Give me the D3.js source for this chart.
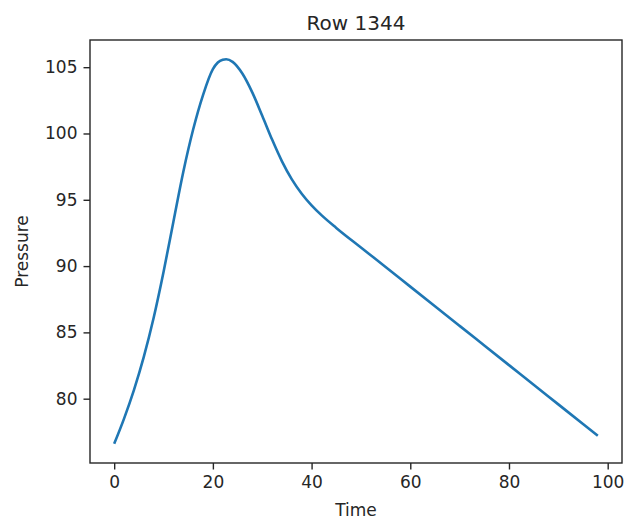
<!DOCTYPE html>
<html>
<head>
<meta charset="utf-8">
<script src="https://cdn.jsdelivr.net/npm/d3@7"></script>
<style>
  html, body { margin: 0; padding: 0; background: #fff; }
  svg { display: block; }
  text { font-family: "DejaVu Sans", sans-serif; fill: #262626; }
</style>
</head>
<body>
<svg id="chart" width="625" height="520"></svg>
<script>
const title = "Row 1344";
const xLabel = "Time";
const yLabel = "Pressure";
const timeValues = [0, 2, 4, 6, 8, 10, 12, 14, 16, 18, 20, 21, 22, 22.7, 24, 26, 28, 30, 32, 34, 36, 38, 40, 42, 45, 50, 55, 60, 65, 70, 75, 80, 85, 90, 95, 98];
const pressureValues = [76.6, 78.5, 80.65, 83.15, 86.1, 89.55, 93.35, 97.1, 100.3, 102.9, 104.85, 105.35, 105.56, 105.6, 105.4, 104.5, 103.08, 101.34, 99.54, 97.9, 96.54, 95.46, 94.58, 93.84, 92.88, 91.4, 89.93, 88.45, 86.97, 85.49, 84.01, 82.53, 81.05, 79.57, 78.09, 77.2];
const xTicks = [0, 20, 40, 60, 80, 100];
const yTicks = [80, 85, 90, 95, 100, 105];

const data = timeValues.map((t, i) => ({ t, v: pressureValues[i] }));

const svg = d3.select("#chart");
const plotLeft = 90, plotRight = 622, plotTop = 40, plotBottom = 463;

const xMin = d3.min(timeValues), xMax = d3.max(timeValues);
const xPad = (xMax - xMin) * 0.05;
const yMin = d3.min(pressureValues), yMax = d3.max(pressureValues);
const yPad = (yMax - yMin) * 0.05;

const x = d3.scaleLinear().domain([xMin - xPad, xMax + xPad]).range([plotLeft, plotRight]);
const y = d3.scaleLinear().domain([yMin - yPad, yMax + yPad]).range([plotBottom, plotTop]);

const line = d3.line().x(d => x(d.t)).y(d => y(d.v)).curve(d3.curveMonotoneX);

svg.append("path")
  .datum(data)
  .attr("fill", "none")
  .attr("stroke", "#1f77b4")
  .attr("stroke-width", 2.6)
  .attr("stroke-linejoin", "round")
  .attr("stroke-linecap", "butt")
  .attr("d", line);

const xAxis = svg.append("g")
  .attr("transform", `translate(0,${plotBottom})`)
  .call(d3.axisBottom(x).tickValues(xTicks).tickSize(6.5).tickPadding(6).tickFormat(d3.format("d")));
const yAxis = svg.append("g")
  .attr("transform", `translate(${plotLeft},0)`)
  .call(d3.axisLeft(y).tickValues(yTicks).tickSize(6.5).tickPadding(6).tickFormat(d3.format("d")));

[xAxis, yAxis].forEach(g => {
  g.select(".domain").remove();
  g.selectAll(".tick line").attr("stroke", "#262626").attr("stroke-width", 1.4);
  g.selectAll(".tick text").attr("font-size", 17).attr("font-family", "DejaVu Sans, sans-serif").attr("fill", "#262626");
});

svg.append("rect")
  .attr("x", plotLeft).attr("y", plotTop)
  .attr("width", plotRight - plotLeft).attr("height", plotBottom - plotTop)
  .attr("fill", "none")
  .attr("stroke", "#262626")
  .attr("stroke-width", 1.4);

svg.append("text")
  .attr("x", (plotLeft + plotRight) / 2).attr("y", 29.5)
  .attr("text-anchor", "middle")
  .attr("font-size", 20)
  .text(title);

svg.append("text")
  .attr("x", (plotLeft + plotRight) / 2).attr("y", 516)
  .attr("text-anchor", "middle")
  .attr("font-size", 17)
  .text(xLabel);

svg.append("text")
  .attr("transform", `translate(28,${(plotTop + plotBottom) / 2}) rotate(-90)`)
  .attr("text-anchor", "middle")
  .attr("font-size", 17)
  .text(yLabel);
</script>
</body>
</html>
